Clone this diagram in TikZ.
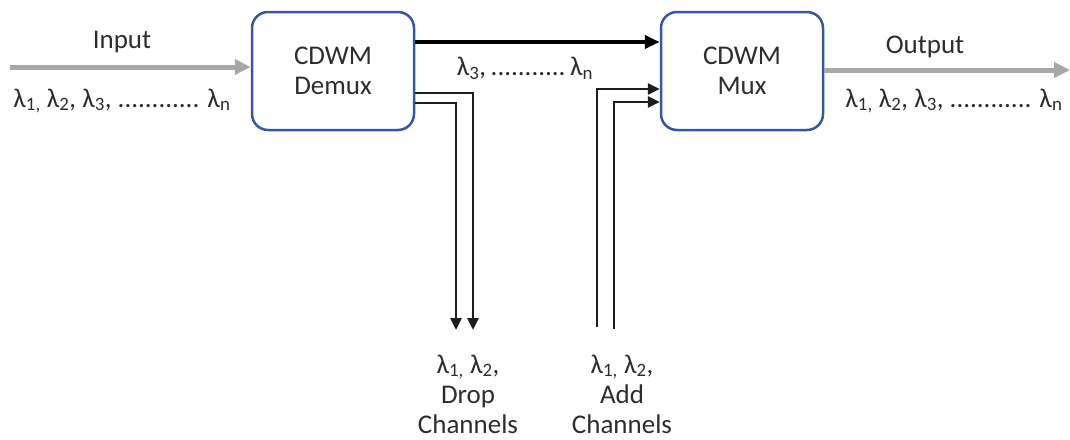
\documentclass[tikz,border=0pt]{standalone}
\usepackage{fontspec}
\setmainfont{Carlito}
\usepackage{tikz}
\usetikzlibrary{arrows.meta}

\begin{document}
\begin{tikzpicture}[x=1pt,y=-1pt,
	box/.style={draw=custblue, line width=2.5pt, rounded corners=16pt, fill=white,
		minimum width=162pt, minimum height=118pt, align=center, inner sep=0pt,
		font=\fontsize{27pt}{30pt}\selectfont, text=custtext},
	lbl/.style={inner sep=0pt, align=center, font=\fontsize{27pt}{30pt}\selectfont, text=custtext},
	fibre/.style={line width=5pt, custgray, -{Triangle[length=16pt,width=15pt]}},
	express/.style={line width=4pt, black, -{Triangle[length=15pt,width=13pt]}},
	chan/.style={line width=2.8pt, custline, -{Triangle[length=12pt,width=11pt]}}]
	\definecolor{custblue}{RGB}{52, 88, 160}
	\definecolor{custgray}{RGB}{168, 168, 168}
	\definecolor{custline}{RGB}{30, 30, 30}
	\definecolor{custtext}{RGB}{45, 45, 45}
	\useasboundingbox (0,0) rectangle (1070,439);
	% the two boxes
	\node[box] (demux) at (333,71) {CDWM\\Demux};
	\node[box] (mux) at (742,71) {CDWM\\Mux};
	% input and output fibre
	\coordinate (in) at (10,67);
	\coordinate (out) at (1070,70);
	\draw[fibre] (in) -- (in -| demux.west);
	\draw[fibre] (mux.east |- out) -- (out);
	\node[lbl] (inlbl) at (122,42) {Input};
	\node[lbl] (inlam) at (122,101) {λ\textsubscript{1,} λ\textsubscript{2}, λ\textsubscript{3}, ............ λ\textsubscript{n}};
	\node[lbl] (outlbl) at (925,47) {Output};
	\node[lbl] (outlam) at (954,101) {λ\textsubscript{1,} λ\textsubscript{2}, λ\textsubscript{3}, ............ λ\textsubscript{n}};
	% express channels
	\draw[express] (demux.east |- 0,42) -- (mux.west |- 0,42);
	\node[lbl] (explam) at (525,68) {λ\textsubscript{3},\,...........\,λ\textsubscript{n}};
	% drop channels
	\coordinate (drop1) at (456,330);
	\coordinate (drop2) at (473,330);
	\draw[chan] (demux.east |- 0,103) -| (drop1);
	\draw[chan] (demux.east |- 0,93) -| (drop2);
	\node[lbl] (droplbl) at (468,394) {λ\textsubscript{1,} λ\textsubscript{2},\\Drop\\Channels};
	% add channels
	\coordinate (add1) at (597,327);
	\coordinate (add2) at (614,329);
	\draw[chan] (add1) |- (mux.west |- 0,89);
	\draw[chan] (add2) |- (mux.west |- 0,102);
	\node[lbl] (addlbl) at (622,394) {λ\textsubscript{1,} λ\textsubscript{2},\\Add\\Channels};
\end{tikzpicture}
\end{document}
